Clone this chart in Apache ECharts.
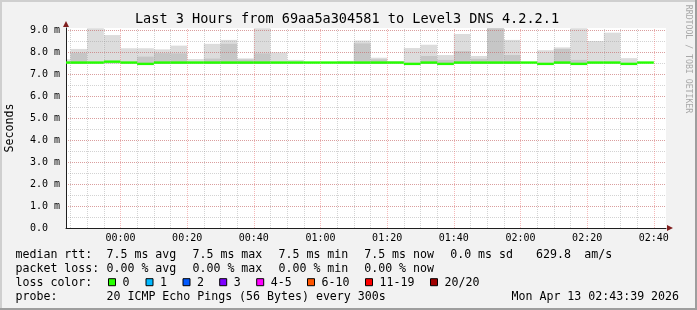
<!DOCTYPE html>
<html><head><meta charset="utf-8">
<script src="https://cdn.jsdelivr.net/npm/echarts@6/dist/echarts.min.js"></script>
<style>html,body{margin:0;padding:0;background:#f2f2f2;}#c{width:697px;height:310px;}</style>
</head><body><div id="c"></div>
<script>
// ---- data (minutes relative to 00:00; bins are 5-minute RRD steps, value = bin end) ----
const xMin = -16.35;   // 23:43:39
const xMax = 163.65;   // 02:43:39
const binMinutes = 5;
const binEnd   = [-15,-10,-5,0,5,10,15,20,25,30,35,40,45,50,55,60,65,70,75,80,85,90,95,100,105,110,115,120,125,130,135,140,145,150,155,160];
const smokeMin = [7.46,7.46,7.46,7.46,7.46,7.44,7.46,7.46,7.46,7.46,7.46,7.46,7.46,7.46,7.46,7.46,7.46,7.46,7.46,7.46,7.46,7.44,7.46,7.44,7.46,7.46,7.46,7.46,7.46,7.44,7.46,7.44,7.46,7.46,7.44,7.46];
const smokeMax = [7.67,8.14,9.08,8.77,8.17,8.17,8.12,8.29,7.68,8.37,8.55,7.71,9.08,7.98,7.64,null,null,7.60,8.52,7.74,7.59,8.18,8.33,7.86,8.82,7.82,9.08,8.55,null,8.08,8.21,9.08,8.50,8.88,7.72,null];
const smokeCore= [null,7.96,null,null,null,7.79,7.95,7.94,null,7.70,8.37,7.66,7.94,null,null,null,null,null,8.39,7.67,null,null,7.82,7.64,8.04,7.69,9.08,7.86,null,null,8.14,7.64,null,null,null,null];
const median   = [7.52,7.52,7.52,7.56,7.52,7.46,7.52,7.52,7.52,7.52,7.52,7.52,7.52,7.52,7.52,7.52,7.52,7.52,7.52,7.52,7.52,7.46,7.52,7.46,7.52,7.52,7.52,7.52,7.52,7.46,7.52,7.46,7.52,7.52,7.46,7.52];
const lossIdx  = [0,0,0,0,0,0,0,0,0,0,0,0,0,0,0,0,0,0,0,0,0,0,0,0,0,0,0,0,0,0,0,0,0,0,0,0];
const xTickValues = [0,20,40,60,80,100,120,140,160];
const xTickLabels = ['00:00','00:20','00:40','01:00','01:20','01:40','02:00','02:20','02:40'];
const xMinorGrid = [-15,-10,-5,5,10,15,25,30,35,45,50,55,65,70,75,85,90,95,105,110,115,125,130,135,145,150,155];
const yMax = 9.0909;
const lossColors = ['#26ff00','#00b8ff','#0059ff','#7e00ff','#ff00ff','#ff5500','#ff0000','#a00000'];
const lossLabels = ['0','1','2','3','4-5','6-10','11-19','20/20'];
const titleText = 'Last 3 Hours from 69aa5a304581 to Level3 DNS 4.2.2.1';
const rttRow  = ['median rtt:','7.5 ms avg','7.5 ms max','7.5 ms min','7.5 ms now','0.0 ms sd','629.8','am/s'];
const lossRow = ['packet loss:','0.00 % avg','0.00 % max','0.00 % min','0.00 % now'];
const probeRow = ['probe:','20 ICMP Echo Pings (56 Bytes) every 300s','Mon Apr 13 02:43:39 2026'];

// ---- layout / style ----
const MONO = '"DejaVu Sans Mono", monospace';
const legendFont = '11.6px ' + MONO;
const rttX = [15.5,106.5,192.5,278.5,364.2,450.2,536,584.2];
const rowY = [254.5,268.5,282.7,296.7];
const swX = [108,145.5,182.5,219.2,256.2,307,365,430];

const smokeData = binEnd.map((e,i)=>[e, smokeMin[i], smokeMax[i]==null?NaN:smokeMax[i], smokeCore[i]==null?NaN:smokeCore[i]]);
const medData = binEnd.map((e,i)=>[e, median[i], lossIdx[i]]);

const chart = echarts.init(document.getElementById('c'), null, {renderer:'canvas'});

const graphics = [];
graphics.push({type:'rect', shape:{x:0,y:0,width:697,height:2}, style:{fill:'#cfcfcf'}, silent:true});
graphics.push({type:'rect', shape:{x:0,y:0,width:2,height:310}, style:{fill:'#cfcfcf'}, silent:true});
graphics.push({type:'rect', shape:{x:0,y:308,width:697,height:2}, style:{fill:'#9e9e9e'}, silent:true});
graphics.push({type:'rect', shape:{x:695,y:0,width:2,height:310}, style:{fill:'#9e9e9e'}, silent:true});
function txt(x,y,t,font,fill,extra){ return Object.assign({type:'text', x:x, y:y, silent:true, style:{text:t, font:font||legendFont, fill:fill||'#000', align:'left', verticalAlign:'middle'}}, extra||{}); }
graphics.push({type:'text', x:347, y:19, silent:true, style:{text:titleText,font:'13.55px '+MONO,fill:'#000',align:'center',verticalAlign:'middle'}});
graphics.push({type:'text', x:10, y:128, rotation:Math.PI/2, silent:true, style:{text:'Seconds', font:legendFont, fill:'#000', align:'center', verticalAlign:'middle'}});
graphics.push({type:'text', x:688, y:59, rotation:-Math.PI/2, silent:true, style:{text:'RRDTOOL / TOBI OETIKER', font:'8.2px '+MONO, fill:'#a8a8a8', align:'center', verticalAlign:'middle'}});
rttRow.forEach((t,i)=>graphics.push(txt(rttX[i],rowY[0],t)));
lossRow.forEach((t,i)=>graphics.push(txt(rttX[i],rowY[1],t)));
graphics.push(txt(rttX[0],rowY[2],'loss color:'));
lossColors.forEach((c,i)=>{
  graphics.push({type:'rect', shape:{x:swX[i]+0.5,y:rowY[2]-4,width:7,height:7}, style:{fill:c, stroke:'#000', lineWidth:1}, silent:true});
  graphics.push(txt(swX[i]+14.5,rowY[2],lossLabels[i]));
});
graphics.push(txt(rttX[0],rowY[3],probeRow[0]));
graphics.push(txt(rttX[1],rowY[3],probeRow[1]));
graphics.push(txt(511.5,rowY[3],probeRow[2]));

const gridMinor = {color:'rgba(150,150,150,0.42)', width:1, type:[1,1]};
const gridMajor = {color:'rgba(230,70,70,0.38)', width:1, type:[1,1]};

chart.setOption({
  animation:false,
  backgroundColor:'#f2f2f2',
  grid:{left:66, width:600, top:28, height:200, show:true, backgroundColor:'#ffffff', borderWidth:0},
  xAxis:[
    {type:'value', position:'bottom', min:xMin, max:xMax, z:4,
     axisLine:{show:true, onZero:false, lineStyle:{color:'#1f1f1f', width:1}},
     axisTick:{show:false, customValues:xTickValues},
     axisLabel:{customValues:xTickValues, margin:5, fontFamily:MONO, fontSize:10, color:'#000',
       formatter:(v)=>{const k=xTickValues.indexOf(Math.round(v)); return k<0?'':xTickLabels[k];}},
     splitLine:{show:false}},
    {type:'value', position:'bottom', min:xMin, max:xMax, z:5,
     axisLine:{show:true, onZero:false, symbol:['none','triangle'], symbolSize:[6,6], symbolOffset:[0,4], lineStyle:{color:'#801f1f', width:0}},
     axisTick:{show:false}, axisLabel:{show:false}, splitLine:{show:false}}
  ],
  yAxis:[
    {type:'value', position:'left', min:0, max:yMax, interval:0.5, z:3,
     axisLine:{show:false}, axisTick:{show:false}, axisLabel:{show:false},
     splitLine:{show:true, showMaxLine:false, lineStyle:gridMinor}},
    {type:'value', position:'left', min:0, max:yMax, interval:1, z:4,
     axisLine:{show:true, onZero:false, lineStyle:{color:'#1f1f1f', width:1}},
     axisTick:{show:false},
     axisLabel:{showMaxLabel:false, align:'left', margin:36, fontFamily:MONO, fontSize:10, color:'#000',
       formatter:(v)=> v===0 ? '0.0' : v.toFixed(1)+' m'},
     splitLine:{show:true, showMaxLine:false, lineStyle:gridMajor}},
    {type:'value', position:'left', min:0, max:yMax, z:5,
     axisLine:{show:true, onZero:false, symbol:['none','triangle'], symbolSize:[6,6], symbolOffset:[0,4], lineStyle:{color:'#801f1f', width:0}},
     axisTick:{show:false}, axisLabel:{show:false}, splitLine:{show:false}}
  ],
  series:[
    {type:'custom', name:'smoke', xAxisIndex:0, yAxisIndex:1, z:2, silent:true,
     data:smokeData,
     renderItem:(params, api)=>{
       const end=api.value(0), start=Math.max(end-binMinutes, xMin);
       const lo=api.value(1), hi=api.value(2), core=api.value(3);
       const ch=[];
       if (isFinite(hi)) {
         const a=api.coord([start,hi]), b=api.coord([end,lo]);
         ch.push({type:'rect', shape:{x:a[0],y:a[1],width:b[0]-a[0],height:b[1]-a[1]}, style:{fill:'#dcdcdc'}});
       }
       if (isFinite(core)) {
         const a=api.coord([start,core]), b=api.coord([end,lo]);
         ch.push({type:'rect', shape:{x:a[0],y:a[1],width:b[0]-a[0],height:b[1]-a[1]}, style:{fill:'#c6c6c6'}});
       }
       return {type:'group', children:ch};
     },
     markLine:{silent:true, symbol:'none', z:3, label:{show:false}, animation:false,
       lineStyle:gridMinor, emphasis:{disabled:true},
       data: xMinorGrid.map(v=>({xAxis:v}))}
    },
    {type:'line', name:'majorgrid', xAxisIndex:0, yAxisIndex:1, data:[], z:3, silent:true,
     markLine:{silent:true, symbol:'none', z:3, label:{show:false}, animation:false,
       lineStyle:gridMajor, emphasis:{disabled:true},
       data: xTickValues.map(v=>({xAxis:v}))}
    },
    {type:'custom', name:'median', xAxisIndex:0, yAxisIndex:1, z:6, silent:true,
     data:medData,
     renderItem:(params, api)=>{
       const end=api.value(0), start=Math.max(end-binMinutes, xMin);
       const m=api.value(1);
       const a=api.coord([start,m]), b=api.coord([end,m]);
       return {type:'line', shape:{x1:a[0],y1:a[1],x2:b[0],y2:b[1]}, style:{stroke:lossColors[api.value(2)], lineWidth:2.4}};
     }
    }
  ],
  graphic: graphics
});
</script></body></html>
